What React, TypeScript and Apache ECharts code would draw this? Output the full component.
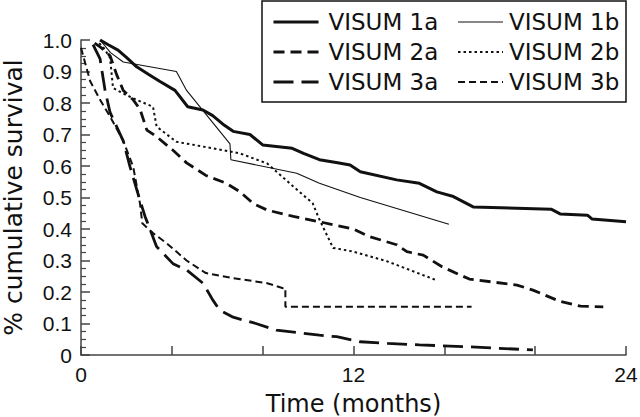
import React, { useEffect, useRef } from "react";
import * as echarts from "echarts";

const seriesNames = ["VISUM 1a", "VISUM 2a", "VISUM 3a", "VISUM 1b", "VISUM 2b", "VISUM 3b"];

const visum1a = [[0.84,1.0],[1.2,0.985],[1.63,0.968],[2.0,0.945],[2.45,0.915],[3.0,0.89],[3.48,0.868],[4.14,0.84],[4.7,0.788],[5.37,0.778],[5.8,0.76],[6.3,0.73],[6.7,0.71],[7.44,0.70],[8.0,0.667],[9.3,0.656],[9.8,0.64],[10.5,0.62],[11.3,0.61],[11.85,0.603],[12.3,0.582],[13.9,0.556],[14.9,0.545],[15.67,0.518],[16.4,0.503],[17.27,0.47],[20.7,0.463],[21.1,0.448],[22.3,0.444],[22.5,0.432],[24,0.423]];
const visum1b = [[0.84,1.0],[1.3,0.96],[1.86,0.93],[4.2,0.9],[4.65,0.84],[6.56,0.67],[6.6,0.62],[9.5,0.577],[10.5,0.545],[12.3,0.5],[16.2,0.415]];
const visum2a = [[0.6,0.99],[0.9,0.975],[1.28,0.95],[1.57,0.89],[1.86,0.84],[2.3,0.81],[2.6,0.78],[2.9,0.714],[3.33,0.693],[4.05,0.65],[4.65,0.61],[5.5,0.57],[6.4,0.545],[7.0,0.518],[7.6,0.48],[8.2,0.46],[9.35,0.44],[10.5,0.423],[12.0,0.4],[12.7,0.376],[13.9,0.35],[14.35,0.328],[15.07,0.317],[15.9,0.28],[17.1,0.241],[19.2,0.222],[19.9,0.206],[21.1,0.17],[22.0,0.155],[23.0,0.153]];
const visum2b = [[0.8,0.99],[1.0,0.975],[1.28,0.943],[1.41,0.848],[1.86,0.83],[2.45,0.81],[3.17,0.788],[3.33,0.725],[4.2,0.677],[5.8,0.656],[7.0,0.64],[8.2,0.608],[9.35,0.535],[10.2,0.482],[10.5,0.43],[11.1,0.34],[12.0,0.328],[13.5,0.297],[15.7,0.236]];
const visum3a = [[0.53,0.985],[0.84,0.94],[1.06,0.84],[1.28,0.77],[1.86,0.68],[2.16,0.597],[2.6,0.49],[2.82,0.44],[3.33,0.344],[4.05,0.29],[4.65,0.27],[5.37,0.228],[5.8,0.175],[6.1,0.143],[6.7,0.12],[7.7,0.1],[8.6,0.079],[10.5,0.063],[11.26,0.058],[12.3,0.042],[13.5,0.037],[14.9,0.032],[17.1,0.026],[19.9,0.016]];
const visum3b = [[0,0.975],[0.4,0.87],[0.84,0.81],[1.28,0.757],[1.86,0.68],[2.3,0.597],[2.6,0.48],[2.7,0.418],[3.17,0.387],[3.77,0.355],[4.65,0.3],[5.5,0.26],[6.7,0.244],[8.2,0.228],[8.9,0.212],[9.0,0.212],[9.0,0.153],[17.2,0.153]];

const xTickLabels = ["0", "12", "24"];

const FONT = "Liberation Sans, Arial, Helvetica, sans-serif";
const WIDE = "DejaVu Sans, sans-serif";
const INK = "#111";

const lineWidths = [3, 2.8, 2.8, 1.1, 2, 2];
const dashTypes: any[] = ["solid", [11, 6], [20, 8], "solid", [2.5, 3], [7, 4]];

export default function App() {
  const ref = useRef<HTMLDivElement>(null);
  useEffect(() => {
    if (!ref.current) return;
    const chart = echarts.init(ref.current, null, { renderer: "svg" });
    const mk = (i: number, data: number[][]) => ({
      name: seriesNames[i],
      type: "line",
      data,
      symbol: "none",
      lineStyle: { color: INK, width: lineWidths[i], type: dashTypes[i] },
      itemStyle: { color: INK },
      z: 3,
    });
    const legItem = (i: number) => ({
      name: seriesNames[i],
      lineStyle: { color: INK, width: lineWidths[i], type: dashTypes[i] },
    });
    const legendBase = {
      orient: "vertical",
      top: 4,
      itemWidth: 45,
      itemHeight: 14,
      itemGap: 4,
      itemStyle: { opacity: 0 },
      selectedMode: false,
    };
    chart.setOption({
      animation: false,
      textStyle: { fontFamily: FONT },
      grid: { left: 81, right: 14, top: 40, bottom: 62, outerBoundsMode: "none", containLabel: false },
      legend: [
        {
          ...legendBase,
          data: [legItem(0), legItem(1), legItem(2)],
          left: 267,
          textStyle: { fontSize: 23, color: INK, lineHeight: 26, fontFamily: WIDE, padding: [0, 0, 0, 5] },
        },
        {
          ...legendBase,
          data: [legItem(3), legItem(4), legItem(5)],
          left: 452,
          textStyle: { fontSize: 23, color: INK, lineHeight: 26, fontFamily: WIDE, padding: [0, 0, 0, 1] },
        },
      ],
      graphic: [
        {
          type: "rect",
          shape: { x: 262, y: 1, width: 364, height: 101 },
          style: { fill: "none", stroke: INK, lineWidth: 1.5 },
          z: 10,
        },
      ],
      xAxis: {
        type: "value",
        min: 0,
        max: 24,
        interval: 4,
        name: "Time (months)",
        nameLocation: "middle",
        nameGap: 37,
        nameTextStyle: { fontSize: 24, color: INK, fontFamily: WIDE },
        axisLine: { lineStyle: { color: "#444", width: 1.5 } },
        axisTick: { inside: true, length: 9, lineStyle: { color: "#444", width: 1.5 } },
        axisLabel: {
          fontSize: 21,
          color: INK,
          margin: 9,
          fontFamily: FONT,
          formatter: (v: number) => (xTickLabels.includes(String(v)) ? String(v) : ""),
        },
        splitLine: { show: false },
      },
      yAxis: {
        type: "value",
        min: 0,
        max: 1,
        interval: 0.1,
        name: "% cumulative survival",
        nameLocation: "middle",
        nameGap: 55,
        nameTextStyle: { fontSize: 25, color: INK, fontFamily: WIDE },
        axisLine: { show: true, lineStyle: { color: "#444", width: 1.5 } },
        axisTick: { show: true, inside: true, length: 9, lineStyle: { color: "#444", width: 1.5 } },
        minorTick: { show: true, splitNumber: 4, length: 5, lineStyle: { color: "#444", width: 1.2 } },
        axisLabel: {
          fontSize: 21,
          color: INK,
          margin: 9,
          fontFamily: FONT,
          formatter: (v: number) => (v === 0 ? "0" : v.toFixed(1)),
        },
        splitLine: { show: false },
      },
      series: [
        mk(0, visum1a),
        mk(1, visum2a),
        mk(2, visum3a),
        mk(3, visum1b),
        mk(4, visum2b),
        mk(5, visum3b),
      ],
    });
    return () => chart.dispose();
  }, []);
  return <div ref={ref} style={{ width: 640, height: 417, position: "absolute", left: 0, top: 0 }} />;
}
